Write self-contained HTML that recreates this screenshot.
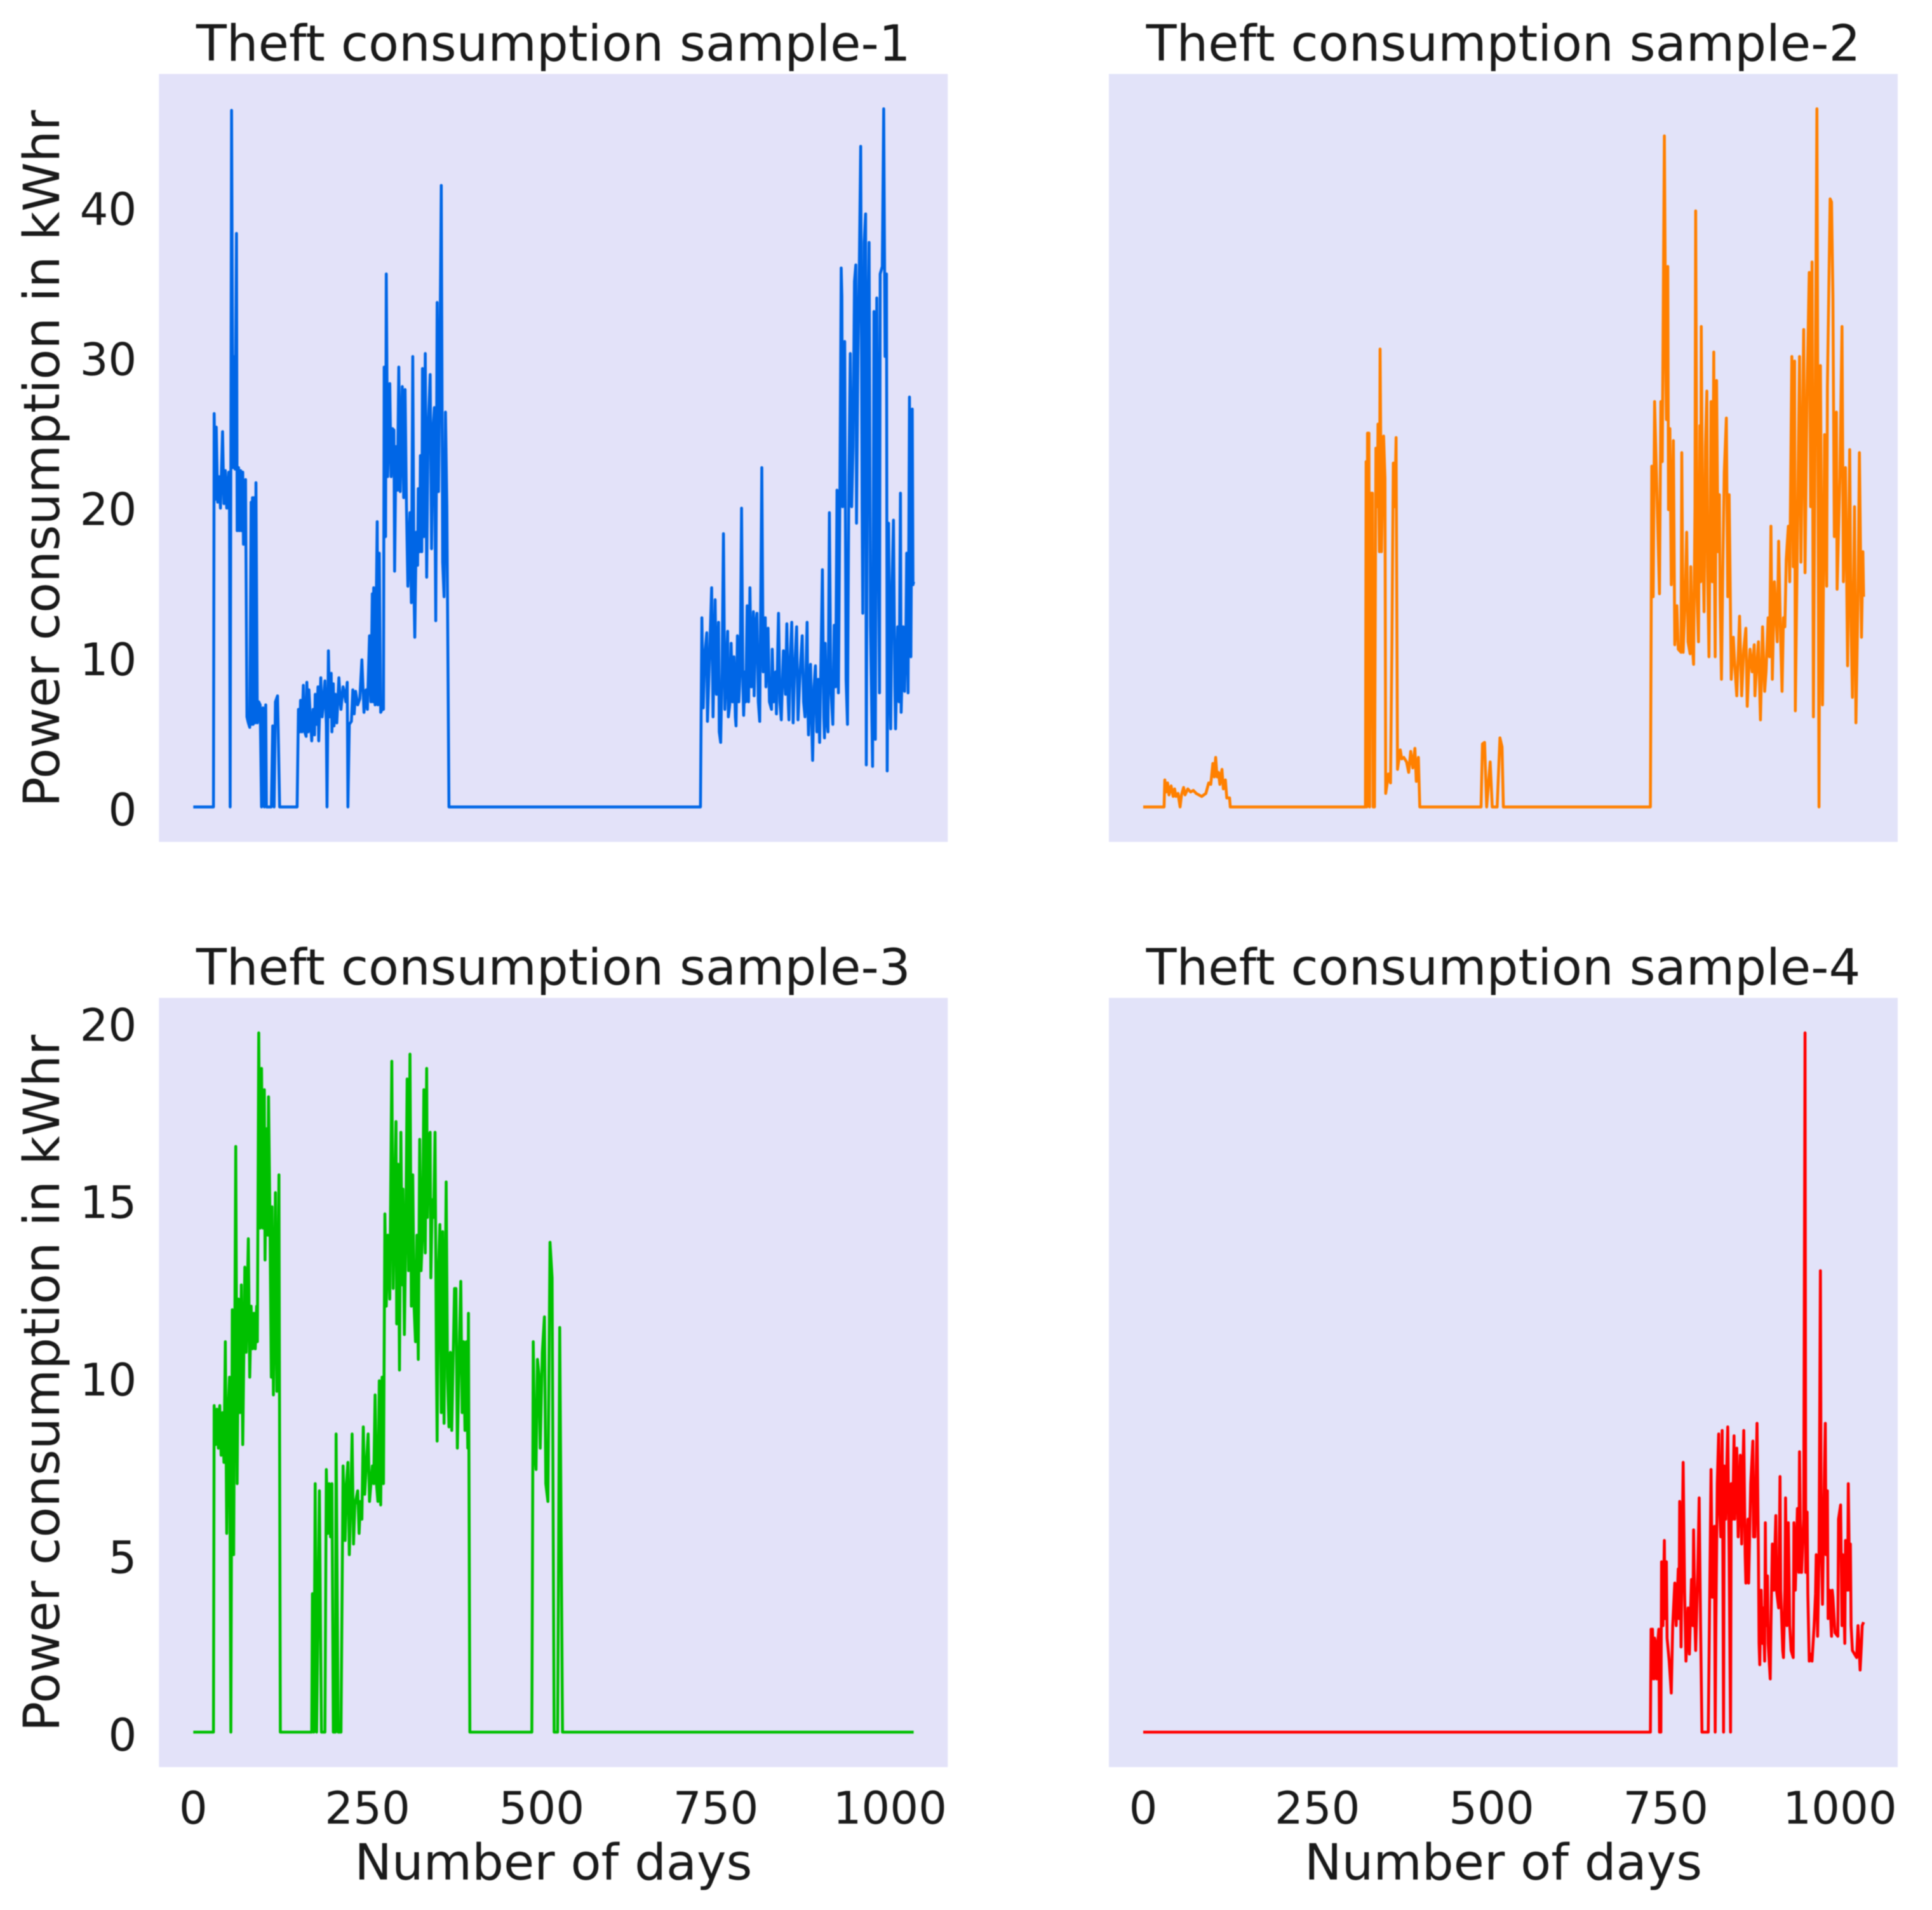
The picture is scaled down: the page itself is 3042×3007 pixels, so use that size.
<!DOCTYPE html>
<html lang="en">
<head>
<meta charset="utf-8">
<title>Theft consumption samples</title>
<style>
html,body{margin:0;padding:0;background:#fff;}
body{width:3042px;height:3007px;overflow:hidden;}
svg{display:block;filter:blur(0.7px);}
text{font-family:"DejaVu Sans","Liberation Sans",sans-serif;fill:#1a1a1a;}
</style>
</head>
<body>
<svg id="figure" width="3042" height="3007" viewBox="0 0 3042 3007" xmlns="http://www.w3.org/2000/svg"></svg>
<script>
const xTickValues = [0, 250, 500, 750, 1000];
const yTicksTop = [0, 10, 20, 30, 40];
const yTicksBottom = [0, 5, 10, 15, 20];
const sampleTitles = ["Theft consumption sample-1", "Theft consumption sample-2", "Theft consumption sample-3", "Theft consumption sample-4"];

const sample1Points = [[0,0],[29,0],[30,26.2],[32,20.5],[33,25.3],[35,20.3],[37,22],[39,19.9],[42,25],[44,20.2],[46,22.4],[48,19.9],[51,22.3],[52,19.9],[53,0],[55,46.4],[57,22.6],[59,30],[60,22.5],[62,38.2],[63,18.4],[65,22.6],[66,18.4],[68,22.4],[69,18.4],[71,22.3],[72,17.5],[75,21.8],[77,6],[79,5.6],[81,5.3],[83,20.3],[84,5.5],[85,20.6],[86,5.5],[87,20.6],[89,5.6],[90,21.6],[92,5.6],[94,7],[96,6.8],[98,0],[100,6.6],[102,0],[104,6.8],[105,0],[112,0],[114,5.4],[116,0],[118,7],[121,7.4],[122,5],[124,0],[149,0],[151,6.5],[153,5],[154,7.1],[156,5],[158,8.1],[160,5],[162,4.7],[163,8.3],[165,5],[166,7.8],[168,6],[170,4.4],[172,6.5],[174,4.8],[175,7.5],[177,5.5],[179,8],[180,4.4],[183,8.6],[185,6],[186,6.5],[189,8.4],[191,5.5],[192,0],[194,10.4],[196,6],[198,8.9],[199,5],[201,8.2],[202,5.4],[204,7.5],[206,5.6],[209,8.6],[211,7],[212,6.5],[215,8],[217,7.6],[219,7],[221,8.3],[222,0],[224,5.5],[227,5.7],[229,7.8],[231,6.2],[233,7.7],[236,6.8],[239,7.2],[242,9.8],[245,6.3],[248,7.8],[250,6.5],[253,11.4],[255,7],[257,14.2],[258,7],[259,14.6],[261,6.8],[264,19],[265,6.8],[267,16.9],[269,6.3],[271,6.5],[273,6.5],[274,29.3],[276,18],[277,35.5],[279,22],[282,28.2],[284,22],[286,25.2],[288,25.1],[289,15.7],[291,24],[293,21.1],[295,29.3],[297,21],[300,28],[302,20.6],[304,27.8],[306,20],[308,14.7],[311,19.6],[313,13.6],[315,30],[317,14],[318,11.3],[320,18.3],[322,16.1],[323,21.2],[325,17],[326,23.4],[328,17],[329,29.2],[331,18],[333,30.2],[335,15.3],[337,25],[340,28.8],[342,17.2],[344,25],[346,26.6],[348,12.4],[350,33.6],[352,21],[354,29.7],[356,41.4],[358,16.3],[360,14],[362,26.3],[364,20],[367,0],[728,0],[730,12.6],[732,6.6],[734,10],[737,11.6],[738,5.7],[741,10],[744,14.6],[746,6],[749,13.8],[751,7.5],[754,12.3],[755,5],[757,4.3],[759,9],[761,18.2],[763,6.5],[765,9],[767,11.7],[768,6],[770,6.8],[772,10.9],[774,7],[776,10],[778,6],[779,5.4],[781,11.4],[783,7],[785,9],[787,19.9],[789,8],[790,6.1],[792,9],[793,7],[795,13.4],[797,7],[799,14.6],[801,8],[804,13],[805,7.4],[807,12],[809,12.9],[811,7],[813,5.7],[816,22.6],[818,9],[821,12.6],[822,8],[825,11.9],[827,7],[830,6.5],[831,10.5],[833,7],[836,9],[837,6.2],[840,12.9],[842,7],[844,5.8],[846,9],[847,10.4],[850,7.5],[852,12.2],[854,7],[855,5.8],[857,10],[859,12.3],[861,5.6],[863,9],[866,12],[868,5.8],[871,9],[874,11.4],[876,7],[878,6],[881,12.3],[882,7],[883,4.8],[886,9.5],[888,5],[889,3.1],[891,8],[893,9.4],[895,5],[897,8.5],[899,4.3],[901,10],[903,15.8],[905,6],[906,4.6],[907,10.9],[909,6],[911,5],[913,19.6],[915,8],[918,5.5],[920,12.1],[922,8],[924,21.1],[926,7.6],[928,20],[930,35.9],[931,34],[932,20],[935,31],[937,8.5],[939,5.5],[941,22],[943,30.2],[945,20],[947,24],[949,35],[951,36.1],[952,18.9],[954,30],[956,36],[958,44],[960,20],[961,12.9],[963,37.6],[965,39.5],[966,2.8],[968,30],[970,37.6],[972,12],[975,2.7],[977,33],[979,4.5],[981,33.9],[983,20],[985,7.6],[986,35.5],[989,36],[991,46.5],[993,30],[995,35.5],[996,2.4],[998,18.9],[1000,8],[1001,5.2],[1003,15],[1005,19.1],[1007,8],[1008,5.2],[1011,12],[1013,7],[1015,20.9],[1016,6.3],[1019,12],[1021,7.7],[1023,12],[1024,16.9],[1026,7.6],[1028,27.3],[1030,10],[1032,26.5],[1033,14.8],[1034,15]];

const sample2Points = [[0,0],[30,0],[31,1.8],[33,1],[35,1.6],[37,0.8],[40,1.4],[43,0.7],[45,1.2],[47,0.7],[50,0.9],[53,0],[55,0.8],[58,1.3],[60,0.8],[64,1.2],[68,1],[72,1.1],[76,0.9],[80,0.8],[84,0.7],[90,0.9],[94,1.6],[97,1.5],[100,2.9],[102,2],[104,3.3],[106,2],[108,2.3],[110,1.5],[113,2.5],[115,1.2],[118,1.8],[120,0.6],[124,0.6],[125,0],[319,0],[320,23],[321,0],[322,24.9],[324,24.9],[325,0],[327,20.9],[329,20.9],[330,0],[332,0],[334,23.9],[336,20],[337,25.5],[339,17],[340,30.5],[342,17],[345,24.7],[347,21.9],[348,0.9],[350,1.5],[352,2.2],[355,1.6],[357,10.8],[359,22.9],[361,20],[363,24.6],[365,2.5],[369,3.8],[371,3.2],[374,3.3],[378,3],[381,2.3],[384,3.7],[387,2.6],[390,3.9],[392,1.7],[395,3.3],[397,0],[485,0],[487,4.2],[490,4.3],[493,0],[498,3],[501,0],[508,0],[512,4.6],[515,4],[517,0],[728,0],[730,22.7],[732,14],[734,27],[737,21.6],[741,14.2],[743,27],[745,23],[748,44.7],[750,29.4],[751,25.8],[753,36],[754,19.8],[756,25.2],[758,14.8],[761,24.4],[763,10.8],[766,13.4],[768,10.5],[772,10.3],[773,23.6],[775,10.3],[778,14],[780,18.3],[782,11],[785,10.2],[786,16],[788,11],[790,9.5],[792,20],[793,39.7],[795,14],[797,11],[799,25.4],[800,15],[801,32],[803,18],[805,13],[807,24],[809,27.7],[810,16],[812,10],[814,20],[815,27],[817,15],[819,30.3],[820,16],[821,10],[823,28.4],[825,17],[827,20.8],[828,14],[830,8.5],[832,16],[834,22.3],[837,25.9],[839,14],[841,20.8],[844,8.5],[847,11.3],[849,9.5],[852,7.4],[854,10],[856,12.7],[859,7.4],[862,10.5],[865,11.9],[867,6.7],[869,9],[871,10.5],[874,9],[877,10.8],[878,7.4],[880,9],[883,11],[886,5.8],[889,12],[892,7.7],[894,9],[897,12.6],[899,10],[901,18.7],[903,8.5],[906,15],[908,13],[910,11],[912,17.7],[915,11],[917,7.7],[919,12.6],[921,12],[923,16.5],[926,18.7],[928,15],[931,30],[933,16],[935,29.7],[936,6.4],[939,18],[942,30],[944,16.3],[948,31.8],[950,15.6],[953,28],[956,35.6],[958,20],[960,36.3],[962,6],[965,30],[967,46.5],[970,0],[972,29.4],[975,6.8],[978,24.8],[981,14.7],[982,28],[986,40.5],[988,40.3],[990,34],[992,18],[995,26.3],[996,14.5],[1000,22],[1003,32],[1005,15],[1008,22.6],[1011,9.4],[1014,23.8],[1016,12],[1018,7.3],[1021,20],[1023,5.6],[1026,14],[1028,23.6],[1031,11.3],[1033,17],[1034,14]];

const sample3Points = [[0,0],[29,0],[30,9.2],[32,8.1],[34,9.1],[36,8],[38,9.2],[40,7.8],[42,9],[44,7.6],[46,11],[48,5.6],[50,9],[52,10],[54,0],[56,11.9],[58,5],[61,16.5],[63,7],[65,12.2],[67,9],[69,12.6],[71,8.1],[74,13.1],[76,10.7],[79,13.9],[81,10],[83,12],[85,10.8],[87,11.8],[89,10.8],[91,12],[92,11],[94,19.7],[96,14.2],[98,18.7],[100,14.2],[102,18.1],[103,13.3],[105,17],[107,14],[108,17.9],[110,14.5],[112,10],[113,14.8],[115,9.5],[118,15.2],[120,9.6],[122,13],[123,15.7],[125,0],[170,0],[171,3.9],[173,0],[175,7],[177,0],[181,6.8],[184,0],[189,0],[191,7.4],[193,5.6],[195,7],[197,5.5],[199,7],[201,0],[204,0],[205,8.4],[208,0],[212,0],[215,7.5],[218,5.4],[220,7],[222,7.6],[224,5],[226,6.5],[228,8.4],[230,5.3],[232,6.4],[236,6.8],[238,5.6],[240,6.5],[242,6],[244,8.6],[246,6.7],[248,7.4],[251,8.4],[253,6.5],[255,7],[257,7.5],[259,7],[261,9.5],[263,7],[265,6.5],[267,9.9],[269,6.4],[271,10],[273,7],[275,14.6],[277,12],[279,14],[280,13.8],[282,12.2],[285,18.9],[287,12.5],[289,15],[291,17.2],[292,11.5],[294,16],[296,10.2],[298,16.9],[300,12.6],[301,15.3],[303,11.2],[305,14],[307,18.4],[309,13],[311,19.1],[313,12],[315,15.7],[317,12],[319,11],[321,14],[322,12.2],[323,10.5],[325,16.7],[327,13],[329,14],[331,18.1],[333,13.5],[335,18.7],[336,14.5],[338,16.8],[340,16.9],[341,12.8],[343,15],[345,14.5],[347,16.9],[349,10.3],[350,8.2],[352,13],[354,14.3],[356,9],[358,14.1],[360,8.7],[363,15.5],[365,10],[367,8.6],[369,10.7],[371,8.5],[373,10.5],[375,12.5],[377,12.5],[379,8],[381,10],[384,12.7],[386,9],[388,11],[390,8.5],[392,11],[394,8],[395,11.8],[397,0],[486,0],[488,11],[490,8],[492,7.4],[494,10.5],[496,10.1],[498,8],[501,10.7],[504,11.7],[506,7],[509,6.5],[512,13.8],[515,12.8],[518,0],[523,0],[526,11.4],[530,0],[1034,0]];

const sample4Points = [[0,0],[728,0],[729,2.9],[730,1.5],[731,2.9],[733,1.5],[734,2.65],[736,2.4],[737,1.5],[738,2.4],[740,2.9],[741,0],[743,0],[744,4.8],[746,3],[748,5.4],[749,3.2],[751,4.8],[752,2.65],[755,2],[758,1.1],[760,3],[763,4.2],[765,3],[768,4.6],[769,3.2],[770,6.5],[772,2.4],[774,6],[775,7.6],[777,4],[779,2],[782,3.5],[784,2.2],[787,4.3],[789,3],[790,5.7],[792,3],[793,2.3],[796,4.5],[798,6.6],[800,3],[802,0],[811,0],[815,7.4],[817,3.8],[820,5.8],[821,0],[822,3],[824,7],[826,8.4],[827,6.5],[829,5.5],[831,8.5],[832,5],[833,0],[834,7.5],[836,6],[837,7],[839,8.6],[841,5],[843,0],[844,7],[846,6],[848,8.35],[849,6],[851,7.5],[852,8],[854,5.5],[857,7.8],[859,5.3],[860,6.7],[862,8.5],[864,5],[865,4.2],[868,6],[869,4.2],[872,7],[875,8.2],[876,5.5],[878,5.5],[881,8.7],[883,5],[884,2.5],[885,1.9],[886,3],[887,4],[889,2.5],[890,3.5],[892,2],[893,5.9],[894,3],[896,4.4],[897,2.5],[900,1.5],[901,3],[903,5.3],[905,4],[908,6.1],[909,4],[912,3.5],[914,7.2],[915,4],[918,2.3],[919,2.1],[921,4],[922,6.6],[924,3],[926,5.9],[928,3],[930,2.3],[933,2.1],[934,5.9],[936,4],[939,6.3],[941,4.5],[942,7.9],[944,4.5],[945,4.5],[948,6],[950,19.7],[951,4.5],[953,6.2],[954,3.9],[956,2],[958,2.2],[960,2],[963,3],[965,3.9],[966,5],[968,2.7],[970,5],[972,13],[973,6],[975,3.6],[977,6.5],[979,8.7],[980,5],[982,6.8],[983,3.2],[985,4],[988,2.7],[989,4],[990,3.8],[993,2.8],[997,2.7],[998,6],[1001,6.4],[1003,3],[1004,5],[1007,2.5],[1008,5.4],[1011,4],[1012,7],[1014,4],[1015,5.3],[1016,3],[1018,2.3],[1021,2.2],[1024,2.1],[1026,3],[1028,2.2],[1029,1.75],[1031,2.5],[1032,3],[1034,3.1]];

const svg = document.getElementById('figure');
const SVG_NS = 'http://www.w3.org/2000/svg';

const panelWidth = 1242;
const xPixelsPerDay = 1.097;
const topPeak = 46.5;
const bottomPeak = 19.7;

function xScale(panelLeft, day) {
  return panelLeft + 54 + day * xPixelsPerDay;
}
function yScale(panelTop, panelHeight, peak, value) {
  const inner = panelHeight / 1.1;
  return panelTop + panelHeight - 55 - (value / peak) * inner;
}

function makeText(parent, content, x, y, size, anchor) {
  const t = document.createElementNS(SVG_NS, 'text');
  t.setAttribute('x', x);
  t.setAttribute('y', y);
  t.setAttribute('font-size', size);
  t.setAttribute('text-anchor', anchor);
  t.textContent = content;
  parent.appendChild(t);
  return t;
}

function drawPanel(opts) {
  const g = document.createElementNS(SVG_NS, 'g');
  
  
  svg.appendChild(g);

  const bg = document.createElementNS(SVG_NS, 'rect');
  bg.setAttribute('x', opts.left);
  bg.setAttribute('y', opts.top);
  bg.setAttribute('width', panelWidth);
  bg.setAttribute('height', opts.height);
  bg.setAttribute('fill', opts.bg);
  
  
  g.appendChild(bg);

  const title = makeText(g, opts.title, opts.left + panelWidth / 2, opts.top - 21, 78.5, 'middle');
  
  

  if (opts.showY) {
    opts.yTicks.forEach(function (v) {
      const yPos = yScale(opts.top, opts.height, opts.peak, v);
      const label = makeText(g, String(v), opts.left - 35, yPos + 29, 70.5, 'end');
      
      
    });
    const yTitle = makeText(g, 'Power consumption in kWhr', 0, 0, 78.5, 'middle');
    yTitle.setAttribute('transform', 'translate(93,' + (opts.top + opts.height / 2 + 1) + ') rotate(-90)');
    
    
  }

  if (opts.showX) {
    xTickValues.forEach(function (v) {
      const label = makeText(g, String(v), xScale(opts.left, v), opts.top + 1300, 70.5, 'middle');
      
      
    });
    const xTitle = makeText(g, 'Number of days', opts.left + panelWidth / 2, opts.top + 1388, 78.5, 'middle');
    
    
  }

  let d = '';
  opts.points.forEach(function (p, i) {
    d += (i ? 'L' : 'M') + xScale(opts.left, p[0]).toFixed(1) + ' ' + yScale(opts.top, opts.height, opts.peak, p[1]).toFixed(1);
  });
  const line = document.createElementNS(SVG_NS, 'path');
  line.setAttribute('d', d);
  line.setAttribute('fill', 'none');
  line.setAttribute('stroke', opts.color);
  line.setAttribute('stroke-width', 4.6);
  line.setAttribute('stroke-linejoin', 'round');
  
  
  g.appendChild(line);
}

drawPanel({name: 'panel-sample-1', lineName: 'sample-1-line', title: sampleTitles[0], left: 250.3, top: 116.4, height: 1209, peak: topPeak, yTicks: yTicksTop, showY: true, showX: false, points: sample1Points, color: '#0066e6', bg: '#e3e2f9'});
drawPanel({name: 'panel-sample-2', lineName: 'sample-2-line', title: sampleTitles[1], left: 1746, top: 116.4, height: 1209, peak: topPeak, yTicks: yTicksTop, showY: false, showX: false, points: sample2Points, color: '#ff8000', bg: '#e2e3f9'});
drawPanel({name: 'panel-sample-3', lineName: 'sample-3-line', title: sampleTitles[2], left: 250.3, top: 1571, height: 1211, peak: bottomPeak, yTicks: yTicksBottom, showY: true, showX: true, points: sample3Points, color: '#00c000', bg: '#e3e2f9'});
drawPanel({name: 'panel-sample-4', lineName: 'sample-4-line', title: sampleTitles[3], left: 1746, top: 1571, height: 1211, peak: bottomPeak, yTicks: yTicksBottom, showY: false, showX: true, points: sample4Points, color: '#ff0000', bg: '#e2e3f9'});
</script>
</body>
</html>
